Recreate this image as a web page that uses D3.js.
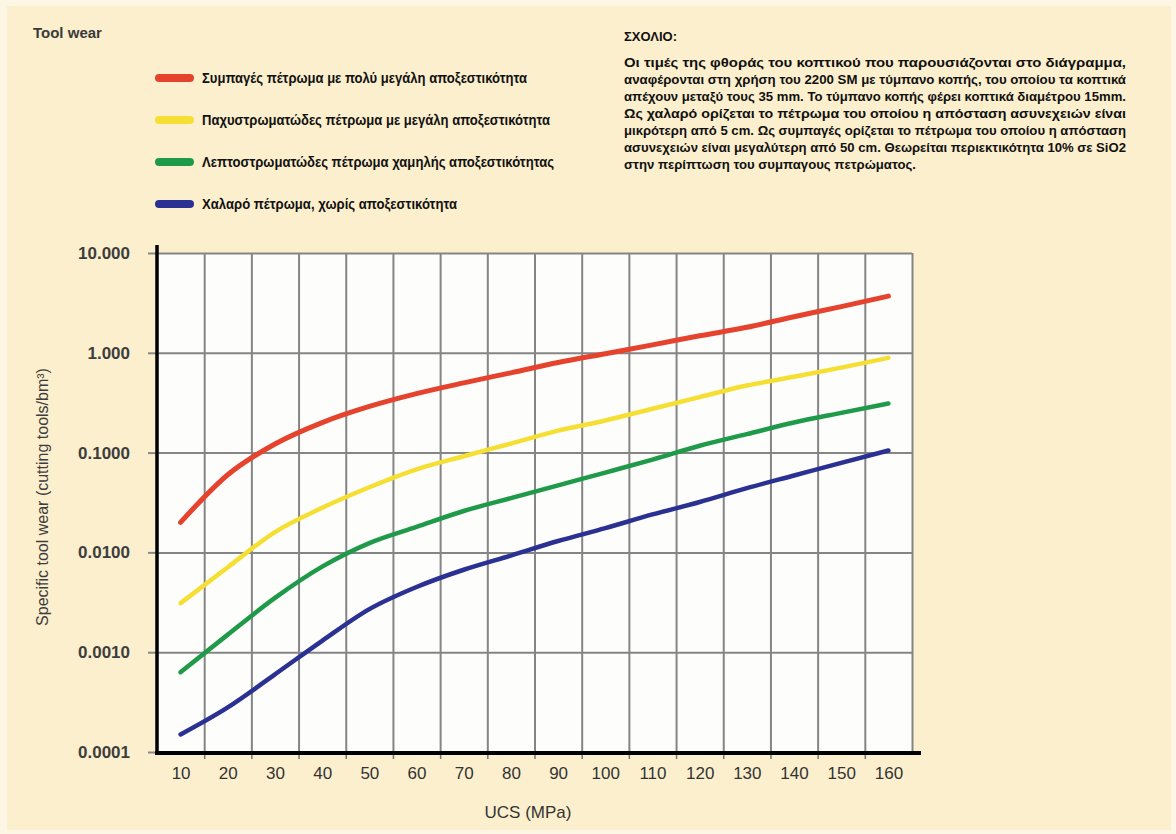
<!DOCTYPE html>
<html>
<head>
<meta charset="utf-8">
<script src="https://cdn.jsdelivr.net/npm/d3@7"></script>
<style>
  body { margin: 0; background: #fdf6e4; }
  svg { display: block; }
</style>
</head>
<body>
<script>
// UCS values on the x axis (MPa)
const ucs = [10, 20, 30, 40, 50, 60, 70, 80, 90, 100, 110, 120, 130, 140, 150, 160]

// specific tool wear (cutting tools / bm3)
const compactRock = [0.020, 0.060, 0.122, 0.20, 0.29, 0.39, 0.50, 0.63, 0.80, 0.98, 1.2, 1.48, 1.8, 2.3, 2.9, 3.7]
const thickBedded = [0.0031, 0.0071, 0.016, 0.028, 0.045, 0.068, 0.092, 0.123, 0.166, 0.21, 0.275, 0.36, 0.47, 0.575, 0.71, 0.89]
const thinBedded = [0.00063, 0.0015, 0.0035, 0.0072, 0.0124, 0.018, 0.026, 0.035, 0.047, 0.063, 0.085, 0.117, 0.153, 0.20, 0.25, 0.31]
const looseRock = [0.00015, 0.00028, 0.0006, 0.0013, 0.0027, 0.0045, 0.0067, 0.0093, 0.013, 0.0175, 0.024, 0.032, 0.044, 0.059, 0.079, 0.105]

const seriesNames = [
  "Συμπαγές πέτρωμα με πολύ μεγάλη αποξεστικότητα",
  "Παχυστρωματώδες πέτρωμα με μεγάλη αποξεστικότητα",
  "Λεπτοστρωματώδες πέτρωμα χαμηλής αποξεστικότητας",
  "Χαλαρό πέτρωμα, χωρίς αποξεστικότητα"
]
const seriesColors = ["#e5432e", "#f6df33", "#1f9a48", "#2b3192"]
const seriesValues = [compactRock, thickBedded, thinBedded, looseRock]

const yTickValues = [10, 1, 0.1, 0.01, 0.001, 0.0001]
const yTickLabels = ["10.000", "1.000", "0.1000", "0.0100", "0.0010", "0.0001"]
const xGridValues = [15, 25, 35, 45, 55, 65, 75, 85, 95, 105, 115, 125, 135, 145, 155, 165]

const noteTitle = "ΣΧΟΛΙΟ:"
const noteLines = [
  "Οι τιμές της φθοράς του κοπτικού που παρουσιάζονται στο διάγραμμα,",
  "αναφέρονται στη χρήση του 2200 SM με τύμπανο κοπής, του οποίου τα κοπτικά",
  "απέχουν μεταξύ τους 35 mm. Το τύμπανο κοπής φέρει κοπτικά διαμέτρου 15mm.",
  "Ως χαλαρό ορίζεται το πέτρωμα του οποίου η απόσταση ασυνεχειών είναι",
  "μικρότερη από 5 cm. Ως συμπαγές ορίζεται το πέτρωμα του οποίου η απόσταση",
  "ασυνεχειών είναι μεγαλύτερη από 50 cm. Θεωρείται περιεκτικότητα 10% σε SiO2",
  "στην περίπτωση του συμπαγους πετρώματος."
]

const width = 1176
const height = 834

const svg = d3.select("body").append("svg")
  .attr("width", width)
  .attr("height", height)

// cream page
svg.append("rect")
  .attr("x", 7).attr("y", 6)
  .attr("width", width - 12).attr("height", height - 10)
  .attr("fill", "#fcefcd")

const plotLeft = 157, plotRight = 912, plotTop = 253, plotBottom = 752

const x = d3.scaleLinear().domain([5, 165]).range([plotLeft, plotRight])
const y = d3.scaleLog().domain([0.0001, 10]).range([plotBottom, plotTop])

// plot background
svg.append("rect")
  .attr("x", plotLeft).attr("y", plotTop)
  .attr("width", plotRight - plotLeft).attr("height", plotBottom - plotTop)
  .attr("fill", "#fdfdfc")

// grid
svg.append("g")
  .attr("transform", `translate(0, ${plotBottom})`)
  .call(d3.axisBottom(x).tickValues(xGridValues).tickSize(-(plotBottom - plotTop)).tickFormat(""))
  .call(g => g.select(".domain").remove())
  .call(g => g.selectAll("line").attr("stroke", "#858585").attr("stroke-width", 2))

svg.append("g")
  .attr("transform", `translate(${plotLeft}, 0)`)
  .call(d3.axisLeft(y).tickValues(yTickValues).tickSize(-(plotRight - plotLeft)).tickFormat(""))
  .call(g => g.select(".domain").remove())
  .call(g => g.selectAll("line").attr("stroke", "#858585").attr("stroke-width", 2))

// small ticks outside the frame
svg.append("g")
  .attr("transform", `translate(0, ${plotBottom})`)
  .call(d3.axisBottom(x).tickValues(xGridValues.slice(0, -1)).tickSize(7).tickFormat(""))
  .call(g => g.select(".domain").remove())
  .call(g => g.selectAll("line").attr("stroke", "#777").attr("stroke-width", 1.5))

svg.append("g")
  .attr("transform", `translate(${plotLeft}, 0)`)
  .call(d3.axisLeft(y).tickValues(yTickValues).tickSize(9).tickFormat(""))
  .call(g => g.select(".domain").remove())
  .call(g => g.selectAll("line").attr("stroke", "#888").attr("stroke-width", 2))

// tick labels
const yAxis = svg.append("g")
  .attr("transform", `translate(${plotLeft}, 0)`)
  .call(d3.axisLeft(y).tickValues(yTickValues).tickSize(0).tickPadding(27)
    .tickFormat((d, i) => yTickLabels[i]))
yAxis.select(".domain").remove()
yAxis.selectAll("text")
  .attr("font-family", "Liberation Sans, Arial, sans-serif")
  .attr("font-size", 17)
  .attr("font-weight", "bold")
  .attr("fill", "#3d3d3d")

const xAxis = svg.append("g")
  .attr("transform", `translate(0, ${plotBottom})`)
  .call(d3.axisBottom(x).tickValues(ucs).tickSize(0).tickPadding(15))
xAxis.select(".domain").remove()
xAxis.selectAll("text")
  .attr("font-family", "Liberation Sans Narrow, Liberation Sans, Arial, sans-serif")
  .attr("font-size", 17)
  .attr("fill", "#333")

// black axis lines
svg.append("line")
  .attr("x1", plotLeft).attr("x2", plotLeft)
  .attr("y1", plotTop - 8).attr("y2", plotBottom + 2)
  .attr("stroke", "#000").attr("stroke-width", 3.5)
svg.append("line")
  .attr("x1", plotLeft - 2).attr("x2", plotRight + 9)
  .attr("y1", plotBottom + 1).attr("y2", plotBottom + 1)
  .attr("stroke", "#000").attr("stroke-width", 4)

// curves
const line = d3.line()
  .x((d, i) => x(ucs[i]))
  .y(d => y(d))
  .curve(d3.curveMonotoneX)

svg.append("g").selectAll("path")
  .data(seriesValues)
  .enter()
  .append("path")
  .attr("d", line)
  .attr("fill", "none")
  .attr("stroke", (d, i) => seriesColors[i])
  .attr("stroke-width", (d, i) => i === 0 ? 5 : 4.5)
  .attr("stroke-linecap", "round")

// axis titles
svg.append("text")
  .attr("x", 528).attr("y", 818)
  .attr("text-anchor", "middle")
  .attr("font-family", "Liberation Sans Narrow, Liberation Sans, Arial, sans-serif")
  .attr("font-size", 17)
  .attr("fill", "#333")
  .text("UCS (MPa)")

svg.append("text")
  .attr("transform", "translate(48, 497) rotate(-90)")
  .attr("text-anchor", "middle")
  .attr("font-family", "Liberation Sans, Arial, sans-serif")
  .attr("font-size", 16)
  .attr("fill", "#3d3d3d")
  .text("Specific tool wear (cutting tools/bm³)")

// title
svg.append("text")
  .attr("x", 33).attr("y", 38)
  .attr("font-family", "Liberation Sans, Arial, sans-serif")
  .attr("font-size", 15)
  .attr("font-weight", "bold")
  .attr("fill", "#3a3a3a")
  .text("Tool wear")

// legend
const legendWidths = [325, 348, 352, 255]
const legend = svg.append("g").selectAll("g")
  .data(seriesNames)
  .enter()
  .append("g")
  .attr("transform", (d, i) => `translate(157, ${78 + i * 42})`)

legend.append("line")
  .attr("x1", 2).attr("x2", 33)
  .attr("stroke", (d, i) => seriesColors[i])
  .attr("stroke-width", 8)
  .attr("stroke-linecap", "round")

legend.append("text")
  .attr("x", 45).attr("y", 5)
  .attr("font-family", "Liberation Sans Narrow, Liberation Sans, Arial, sans-serif")
  .attr("font-size", 14)
  .attr("font-weight", "bold")
  .attr("fill", "#111")
  .attr("textLength", (d, i) => legendWidths[i])
  .attr("lengthAdjust", "spacingAndGlyphs")
  .text(d => d)

// note block, justified like the original
svg.append("text")
  .attr("x", 624).attr("y", 41)
  .attr("font-family", "Liberation Sans, Arial, sans-serif")
  .attr("font-size", 13)
  .attr("font-weight", "bold")
  .attr("fill", "#111")
  .text(noteTitle)

svg.append("g").selectAll("text")
  .data(noteLines)
  .enter()
  .append("text")
  .attr("x", 624)
  .attr("y", (d, i) => 67 + i * 17)
  .attr("font-family", "Liberation Sans Narrow, Liberation Sans, Arial, sans-serif")
  .attr("font-size", 12)
  .attr("font-weight", "bold")
  .attr("fill", "#111")
  .attr("textLength", (d, i) => i < noteLines.length - 1 ? 502 : 292)
  .attr("lengthAdjust", "spacingAndGlyphs")
  .text(d => d)
</script>
</body>
</html>
